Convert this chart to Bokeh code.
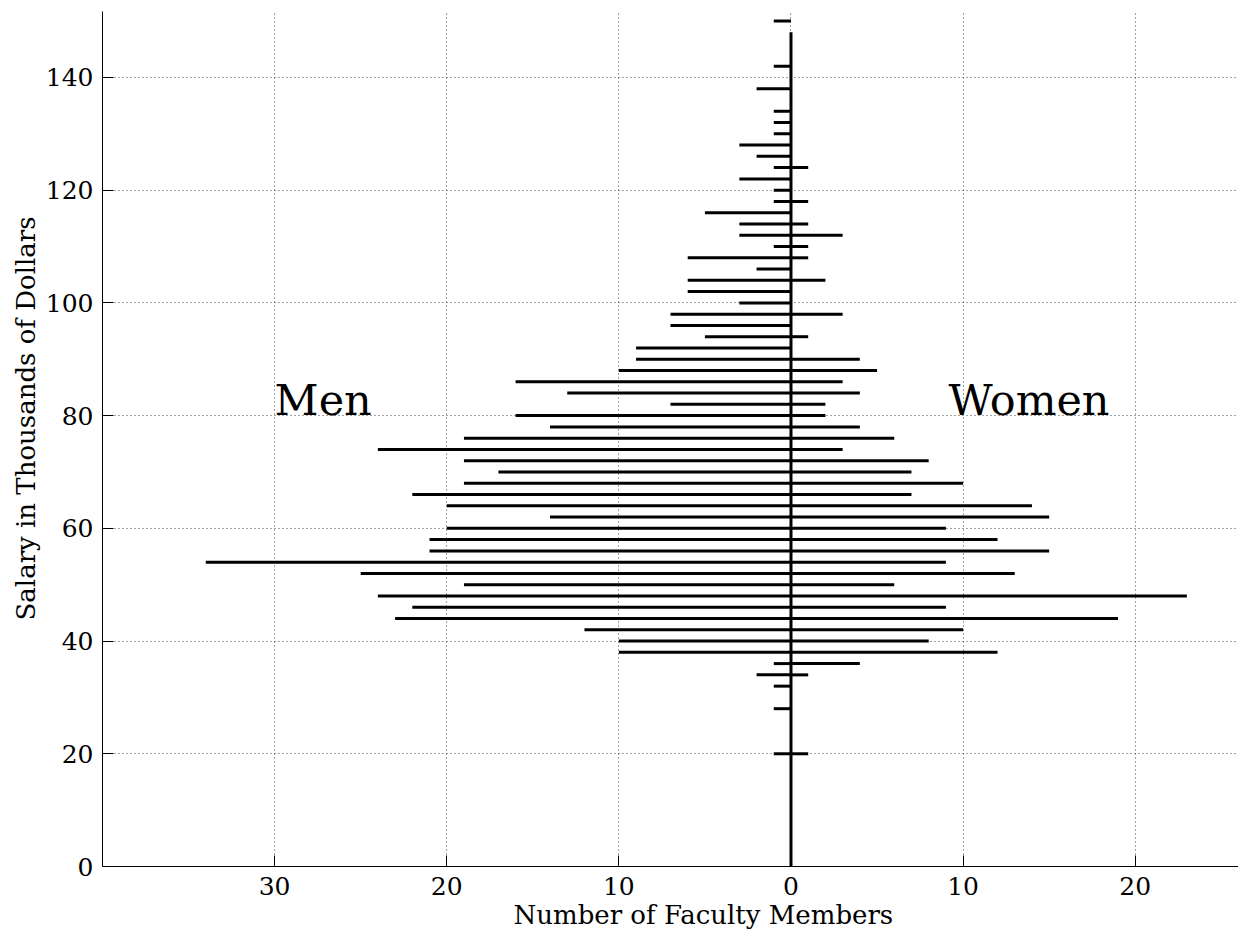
from bokeh.plotting import figure
from bokeh.models import FixedTicker, Range1d, ColumnDataSource, Label, Title
from bokeh.embed import file_html
from bokeh.resources import INLINE

# Salary bins (thousands of dollars)
salary = [150, 142, 138, 134, 132, 130, 128, 126, 124, 122, 120, 118, 116, 114,
          112, 110, 108, 106, 104, 102, 100, 98, 96, 94, 92, 90, 88, 86, 84, 82,
          80, 78, 76, 74, 72, 70, 68, 66, 64, 62, 60, 58, 56, 54, 52, 50, 48, 46,
          44, 42, 40, 38, 36, 34, 32, 28, 20]
# Number of men per bin (drawn to the left)
men = [1, 1, 2, 1, 1, 1, 3, 2, 1, 3, 1, 1, 5, 3,
       3, 1, 6, 2, 6, 6, 3, 7, 7, 5, 9, 9, 10, 16, 13, 7,
       16, 14, 19, 24, 19, 17, 19, 22, 20, 14, 20, 21, 21, 34, 25, 19, 24, 22,
       23, 12, 10, 10, 1, 2, 1, 1, 1]
# Number of women per bin (drawn to the right)
women = [0, 0, 0, 0, 0, 0, 0, 0, 1, 0, 0, 1, 0, 1,
         3, 1, 1, 0, 2, 0, 0, 3, 0, 1, 0, 4, 5, 3, 4, 2,
         2, 4, 6, 3, 8, 7, 10, 7, 14, 15, 9, 12, 15, 9, 13, 6, 23, 9,
         19, 10, 8, 12, 4, 1, 0, 0, 1]
center_line_top = 148

x_ticks = [-30, -20, -10, 0, 10, 20]
x_tick_labels = ["30", "20", "10", "0", "10", "20"]
y_ticks = [0, 20, 40, 60, 80, 100, 120, 140]

FONT = "DejaVu Serif"

p = figure(width=1238, height=937,
           x_range=Range1d(-40, 26.0), y_range=Range1d(0, 151.7),
           output_backend="svg", toolbar_location=None,
           min_border_left=102, min_border_right=0,
           min_border_top=11, min_border_bottom=71)
p.outline_line_color = None
p.background_fill_color = "white"
p.border_fill_color = "white"

men_src = ColumnDataSource(dict(y=salary, x0=[0] * len(salary), x1=[-m for m in men]))
women_src = ColumnDataSource(dict(y=salary, x0=[0] * len(salary), x1=list(women)))

p.segment(x0="x0", y0="y", x1="x1", y1="y", source=men_src,
          line_color="black", line_width=3, line_cap="butt")
p.segment(x0="x0", y0="y", x1="x1", y1="y", source=women_src,
          line_color="black", line_width=3, line_cap="butt")
p.segment(x0=[0], y0=[0], x1=[0], y1=[center_line_top],
          line_color="black", line_width=3, line_cap="butt")

p.add_layout(Label(x=-30, y=80, y_offset=16, text="Men", text_font=FONT, text_font_size="43px",
                   text_baseline="alphabetic", text_align="left", text_color="black"))
p.add_layout(Label(x=9.15, y=80, y_offset=16, text="Women", text_font=FONT, text_font_size="43px",
                   text_baseline="alphabetic", text_align="left", text_color="black"))

# Axis titles (centred on the original, wider axes of which this view is a crop)
p.add_layout(Title(text="Number of Faculty Members", align="left", offset=411,
                   text_font=FONT, text_font_size="26px", text_font_style="normal",
                   text_color="black", standoff=0), "below")
p.add_layout(Title(text="Salary in Thousands of Dollars", align="left", offset=246,
                   text_font=FONT, text_font_size="26px", text_font_style="normal",
                   text_color="black", standoff=4), "left")

# Axes
p.xaxis.ticker = FixedTicker(ticks=x_ticks)
p.xaxis.major_label_overrides = {t: l for t, l in zip(x_ticks, x_tick_labels)}
p.yaxis.ticker = FixedTicker(ticks=y_ticks)

for ax in (p.xaxis, p.yaxis):
    ax.axis_line_color = "black"
    ax.axis_line_width = 1
    ax.major_tick_line_color = "black"
    ax.major_tick_in = 11
    ax.major_tick_out = 0
    ax.minor_tick_line_color = None
    ax.major_label_text_font = FONT
    ax.major_label_text_font_size = "25px"
    ax.major_label_text_color = "black"

p.xaxis.major_label_standoff = 10
p.yaxis.major_label_standoff = 9

# Grid
p.xgrid.ticker = FixedTicker(ticks=x_ticks)
p.ygrid.ticker = FixedTicker(ticks=y_ticks)
for g in (p.xgrid, p.ygrid):
    g.grid_line_color = "#444444"
    g.grid_line_width = 1
    g.grid_line_dash = "1 3"

open("out.html", "w").write(file_html(p, INLINE))
